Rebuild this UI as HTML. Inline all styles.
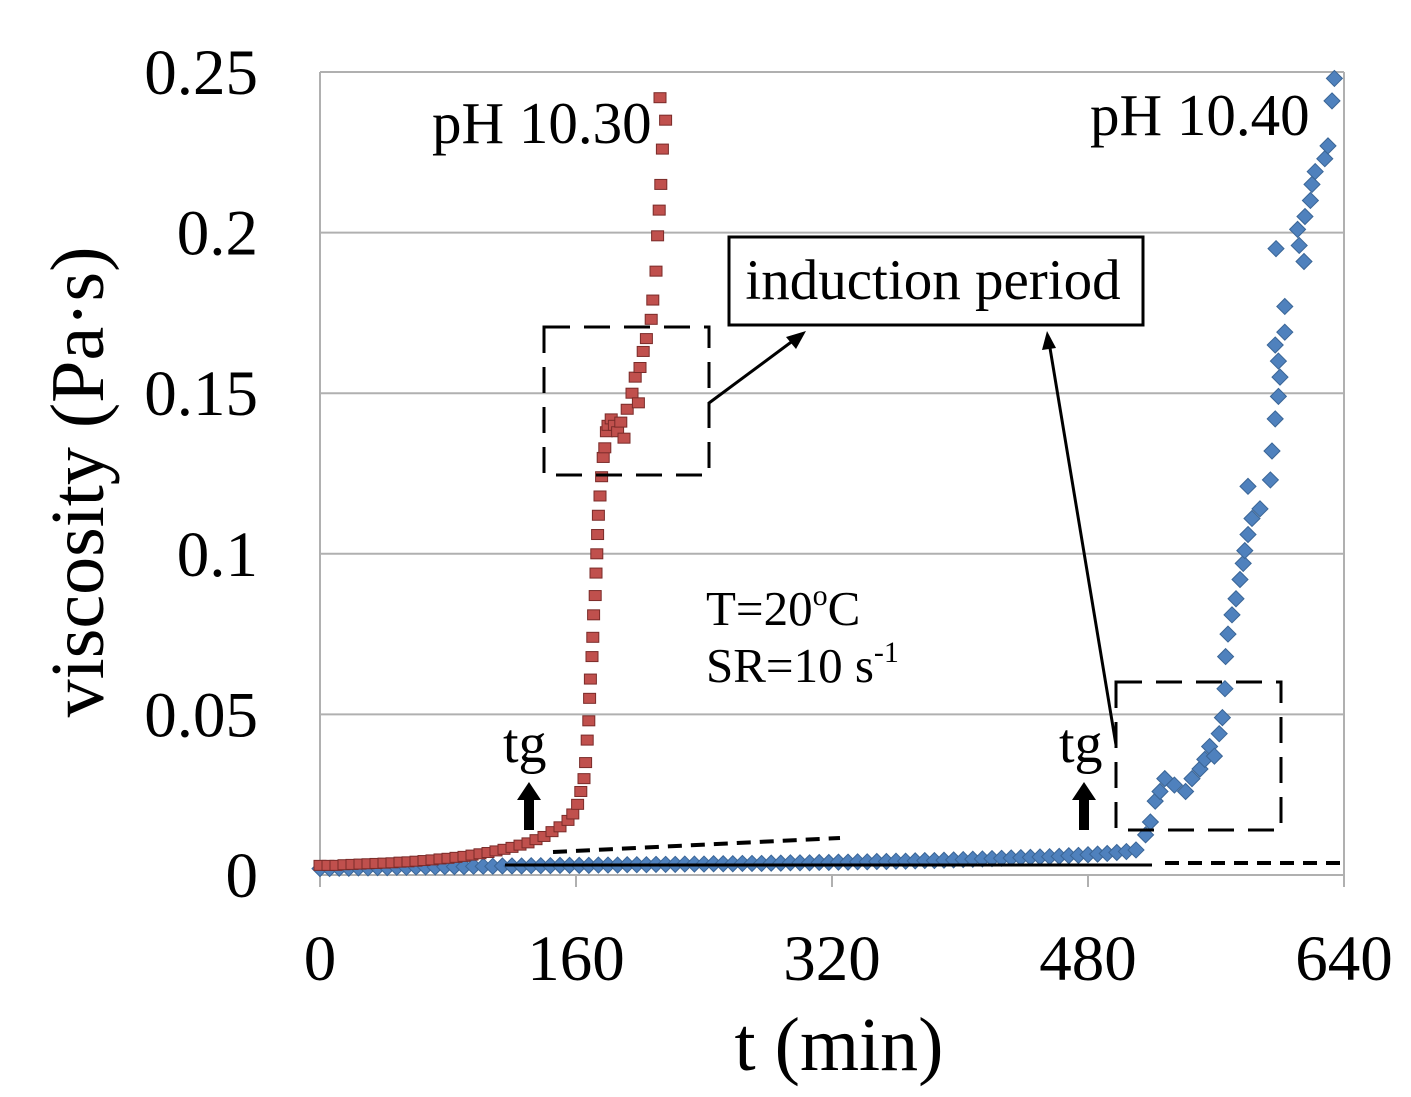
<!DOCTYPE html>
<html><head><meta charset="utf-8"><style>
html,body{margin:0;padding:0;background:#fff}
svg{display:block}
text{font-family:"Liberation Serif",serif;fill:#000}
</style></head><body>
<svg id="chart" width="1411" height="1097" viewBox="0 0 1411 1097" xmlns="http://www.w3.org/2000/svg">
<g id="grid"></g>
<g id="axes"></g>
<g id="blue"></g>
<g id="red"></g>
<g id="annot">
  <line x1="553" y1="852" x2="840" y2="838" stroke="#000" stroke-width="4" stroke-dasharray="14,9"/>
  <line x1="505" y1="865" x2="1152" y2="865" stroke="#000" stroke-width="3"/>
  <line x1="1165" y1="863" x2="1344" y2="863" stroke="#000" stroke-width="4" stroke-dasharray="14,9"/>
  <rect x="544" y="327" width="165" height="148" fill="none" stroke="#000" stroke-width="3" stroke-dasharray="26,14"/>
  <rect x="1116" y="682" width="165" height="148" fill="none" stroke="#000" stroke-width="3" stroke-dasharray="26,14"/>
  <rect x="729" y="237" width="414" height="88" fill="#fff" stroke="#000" stroke-width="3"/>
  <text x="933" y="299" font-size="57" text-anchor="middle">induction period</text>
  <line x1="709" y1="403" x2="798" y2="337" stroke="#000" stroke-width="3"/>
  <polygon points="806,331 786,337 796,349" fill="#000"/>
  <line x1="1116" y1="745" x2="1049" y2="342" stroke="#000" stroke-width="3"/>
  <polygon points="1047,331 1042,350 1056,348" fill="#000"/>
  <text x="432" y="143" font-size="59">pH 10.30</text>
  <text x="1090" y="135" font-size="59">pH 10.40</text>
  <text x="706" y="625" font-size="49">T=20<tspan font-size="30" dy="-20">o</tspan><tspan dy="20">C</tspan></text>
  <text x="706" y="682" font-size="49">SR=10 s<tspan font-size="30" dy="-20">-1</tspan></text>
  <text x="503" y="762" font-size="56">tg</text>
  <text x="1059" y="762" font-size="56">tg</text>
  <polygon points="524,830 534,830 534,800 541,800 529,782 517,800 524,800" fill="#000"/>
  <polygon points="1079,830 1089,830 1089,800 1096,800 1084,782 1072,800 1079,800" fill="#000"/>
</g>
<text transform="translate(103,482) rotate(-90)" font-size="76" text-anchor="middle">viscosity (Pa·s)</text>
<text x="839" y="1070" font-size="76" text-anchor="middle">t (min)</text>
</svg>
<script>
const xTicks=[0,160,320,480,640];
const yTicks=[0,0.05,0.1,0.15,0.2,0.25];
const yTickLabels=["0","0.05","0.1","0.15","0.2","0.25"];
const redT=[0,5,10,15,20,25,30,35,40,45,50,55,60,65,70,75,80,85,90,95,100,105,110,115,120,125,130,135,140,145,150,155,
158,161,163,165,166,167,168,168.5,169,170,170.5,171,172,172.5,173,173.5,174,175,176,177,178,179,180,182,184,186,188,190,192,195,197,199,200,202,204,207,208,210,211,212,213,214,216,212.5];
const redV=[0.003,0.003,0.003,0.0032,0.0033,0.0034,0.0035,0.0036,0.0037,0.0038,0.004,0.0041,0.0043,0.0045,0.0047,0.005,0.0052,0.0055,0.0058,0.0062,0.0066,0.007,0.0075,0.008,0.0086,0.0093,0.01,0.011,0.012,0.0135,0.015,0.017,
0.019,0.022,0.026,0.030,0.035,0.042,0.048,0.055,0.061,0.068,0.074,0.081,0.087,0.094,0.1,0.106,0.112,0.118,0.124,0.13,0.133,0.138,0.14,0.142,0.14,0.138,0.141,0.136,0.145,0.15,0.155,0.147,0.158,0.163,0.167,0.173,0.179,0.188,0.199,0.207,0.215,0.226,0.235,0.242];
const blueT=[0,6,12,18,24,30,36,42,48,54,60,66,72,78,84,90,96,102,108,114,120,126,132,138,144,150,156,162,168,174,180,186,192,198,204,210,216,222,228,234,240,246,252,258,264,270,276,282,288,294,300,306,312,318,324,330,336,342,348,354,360,366,372,378,384,390,396,402,408,414,420,426,432,438,444,450,456,462,468,474,480,486,492,498,504,510,
516,519,522,525,528,534,541,545,550,553,556,559,562,564,565.6,566,567.5,570,572.5,575,577,578,580,582.5,587.5,580,594,595,597,599,600,599,597,603,603,597.5,615,612,611,615.6,619,620,622,628,630,632.5,634];
const blueV=[0.002,0.002,0.0021,0.0021,0.0022,0.0022,0.0023,0.0023,0.0024,0.0024,0.0025,0.0025,0.0025,0.0026,0.0026,0.0026,0.0027,0.0027,0.0027,0.0028,0.0028,0.0028,0.0029,0.0029,0.0029,0.003,0.003,0.003,0.003,0.0031,0.0031,0.0031,0.0032,0.0032,0.0032,0.0033,0.0033,0.0033,0.0034,0.0034,0.0034,0.0035,0.0035,0.0035,0.0036,0.0036,0.0036,0.0037,0.0037,0.0038,0.0038,0.0038,0.0039,0.0039,0.004,0.004,0.0041,0.0041,0.0042,0.0042,0.0043,0.0043,0.0044,0.0045,0.0045,0.0046,0.0047,0.0048,0.0049,0.005,0.0051,0.0052,0.0053,0.0054,0.0055,0.0056,0.0057,0.0058,0.006,0.0061,0.0063,0.0065,0.0067,0.007,0.0073,0.0078,
0.0125,0.0165,0.023,0.026,0.030,0.028,0.026,0.030,0.033,0.036,0.040,0.037,0.044,0.049,0.058,0.068,0.075,0.081,0.086,0.092,0.097,0.101,0.106,0.111,0.114,0.121,0.123,0.132,0.142,0.149,0.155,0.160,0.165,0.169,0.177,0.195,0.191,0.196,0.201,0.205,0.21,0.215,0.219,0.223,0.227,0.241,0.248];
const X0=320,X1=1344,Y0=875,Y1=72;
const sx=t=>X0+(t-0)/(640-0)*(X1-X0);
const sy=v=>Y0-(v-0)/(0.25-0)*(Y0-Y1);
const NS="http://www.w3.org/2000/svg";
function mk(tag,parent,attrs){const e=document.createElementNS(NS,tag);for(const k in attrs)e.setAttribute(k,attrs[k]);parent.appendChild(e);return e;}
const grid=document.getElementById('grid'),axes=document.getElementById('axes');
yTicks.forEach((v,i)=>{
  const l=mk('line',grid,{x1:X0,x2:X1,y1:sy(v),y2:sy(v),stroke:'#b0b0b0','stroke-width':2});
  
  
  const t=mk('text',axes,{x:258,y:sy(v)+22,'font-size':65,'text-anchor':'end'});
  t.textContent=yTickLabels[i];
  
  
});
const la=mk('line',axes,{x1:X0,x2:X0,y1:Y1,y2:Y0+10,stroke:'#b0b0b0','stroke-width':2});


const ra=mk('line',axes,{x1:X1,x2:X1,y1:Y1,y2:Y0+10,stroke:'#b0b0b0','stroke-width':2});


xTicks.forEach(v=>{
  const k=mk('line',axes,{x1:sx(v),x2:sx(v),y1:Y0,y2:Y0+12,stroke:'#b0b0b0','stroke-width':2});
  
  
  const t=mk('text',axes,{x:sx(v),y:980,'font-size':65,'text-anchor':'middle'});
  t.textContent=String(v);
  
  
});
const blue=document.getElementById('blue');
blueT.forEach((t,i)=>{
  const x=sx(t),y=sy(blueV[i]),r=8;
  const p=mk('polygon',blue,{points:`${x},${y-r} ${x+r},${y} ${x},${y+r} ${x-r},${y}`,fill:'#4f81bd',stroke:'#3a6596','stroke-width':1});
  
  
});
const red=document.getElementById('red');
redT.forEach((t,i)=>{
  const x=sx(t),y=sy(redV[i]);
  const p=mk('rect',red,{x:x-6,y:y-5,width:12,height:10,fill:'#c0504d',stroke:'#7a2b29','stroke-width':1});
  
  
});
</script>
</body></html>
